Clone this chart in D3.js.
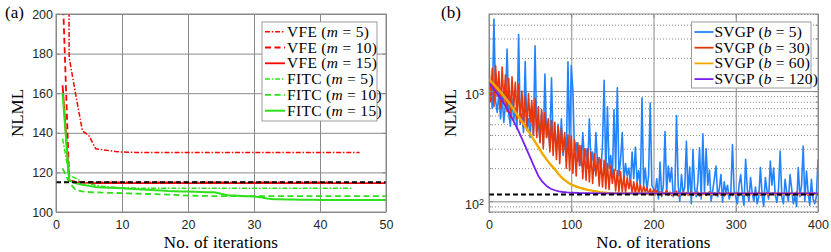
<!DOCTYPE html>
<html>
<head>
<meta charset="utf-8">
<script src="https://cdn.jsdelivr.net/npm/d3@7"></script>
<style>
  body { margin: 0; background: #fff; }
  svg { display: block; }
  .tick text { font-family: "Liberation Sans", Arial, sans-serif; font-size: 12.5px; fill: #262626; }
  .serif { font-family: "Liberation Serif", "Times New Roman", serif; fill: #000; }
</style>
</head>
<body>
<svg id="chart" width="831" height="252"></svg>
<script>
// two panels: (a) NLML vs iterations for VFE / FITC, (b) SVGP with log y

const W = 831, H = 252;
const exactNLML = 115;

// ---- panel (a) data, iteration i -> value at index i-1
const vfe5 = [900, 178, 159, 141, 138.5, 132, 131.5, 131, 130.6, 130.3,
  130.2, 130.1, 130.1, 130, 130, 130, 130, 130, 130, 130,
  130, 130, 130, 130, 130, 130, 130, 130, 130, 130,
  130, 130, 130, 130, 130, 130, 130, 130, 130, 130,
  130, 130, 130, 130, 130, 130];
const vfe10 = [212, 116, 115.3, 115.2, 115.1, 115, 115, 115, 115, 115,
  115, 115, 115, 115, 115, 115, 115, 115, 115, 115,
  115, 115, 115, 115, 115, 115, 115, 115, 115, 115,
  115, 115, 115, 115, 115, 115, 115, 115, 115, 115,
  115, 115];
const vfe15 = [164, 116, 115, 114.8, 114.7, 114.6, 114.6, 114.6, 114.6, 114.6,
  114.6, 114.6, 114.6, 114.6, 114.6, 114.6, 114.6, 114.6, 114.6, 114.6,
  114.6, 114.6, 114.6, 114.6, 114.6, 114.6, 114.6, 114.6, 114.6, 114.6,
  114.6, 114.6, 114.6, 114.6, 114.6, 114.6, 114.6, 114.6, 114.6, 114.6,
  114.6, 114.6, 114.6, 114.6, 114.6, 114.6, 114.6, 114.6, 114.6, 114.6];
const fitc5 = [137, 118.5, 117, 115.3, 114.3, 113.5, 113, 112.7, 112.5, 112.3,
  112.2, 112.1, 112, 112, 112, 112, 112, 112, 112, 112,
  112, 112, 112, 112, 112, 112, 112, 112, 112, 112,
  112, 112, 112, 112, 112, 112, 112, 112, 112, 112,
  112, 112, 112, 112, 112];
const fitc10 = [122, 115, 111, 110.4, 110.1, 109.9, 109.8, 109.7, 109.6, 109.5,
  109.4, 109.3, 109.2, 109.1, 109, 108.9, 108.8, 108.6, 108.4, 108.3,
  108.2, 108.1, 108.1, 108, 108, 108, 108, 108, 108, 108,
  108, 108, 108, 108, 108, 108, 108, 108, 108, 108,
  108, 108, 108, 108, 108, 108, 108, 108, 108, 108];
const fitc15 = [160, 116, 114.5, 113.8, 113.2, 112.6, 112.4, 112.2, 112.1, 112,
  111.8, 111.6, 111.4, 111.2, 111, 110.8, 110.6, 110.5, 110.4, 110.3,
  110.2, 110.1, 110, 110, 109.2, 108.5, 108.3, 108.1, 108, 107.8,
  107.4, 106.8, 106.5, 106.4, 106.3, 106.3, 106.2, 106.2, 106.2, 106.1,
  106.1, 106.1, 106.1, 106, 106, 106, 106, 106, 106, 106];

const xTicksA = [0, 10, 20, 30, 40, 50];
const yTicksA = [100, 120, 140, 160, 180, 200];

// ---- panel (b) data, b=5 and b=30 sampled every 2 iterations (0..400)
const svgp5 = [
  780, 1050, 700, 4500, 820, 640, 980, 560, 900, 520,
  760, 2400, 620, 480, 850, 540, 700, 450, 3250, 500,
  620, 420, 1850, 460, 560, 380, 720, 400, 2580, 430,
  520, 350, 640, 330, 1430, 380, 460, 310, 1320, 340,
  420, 280, 500, 300, 560, 260, 380, 250, 1840, 290,
  1700, 1000, 270, 340, 230, 320, 210, 420, 240, 300,
  200, 560, 220, 280, 190, 420, 210, 250, 180, 330,
  1250, 170, 720, 200, 260, 160, 680, 190, 1070, 170,
  240, 420, 150, 220, 170, 200, 140, 280, 160, 310,
  150, 190, 130, 870, 140, 200, 125, 170, 780, 140,
  130, 120, 160, 105, 227, 110, 140, 430, 120, 209,
  150, 202, 110, 125, 600, 140, 100, 175, 118, 135,
  351, 115, 205, 95, 295, 130, 110, 150, 306, 105,
  409, 120, 300, 140, 192, 100, 125, 160, 209, 110,
  130, 175, 98, 150, 120, 140, 105, 118, 328, 125,
  110, 95, 140, 175, 115, 92, 240, 130, 100, 164,
  120, 100, 135, 95, 110, 202, 115, 90, 164, 125,
  105, 232, 140, 200, 115, 98, 130, 285, 110, 95,
  158, 120, 100, 175, 130, 95, 112, 90, 202, 110,
  140, 317, 100, 188, 120, 92, 158, 105, 95, 110,
  240];
const svgp30 = [
  1750, 800, 1600, 720, 1700, 900, 1500, 700, 1650, 780,
  1400, 650, 1300, 580, 1350, 700, 1200, 560, 1150, 520,
  1000, 480, 900, 440, 950, 520, 820, 400, 860, 380,
  720, 340, 680, 300, 640, 380, 560, 280, 540, 260,
  520, 240, 480, 220, 460, 280, 420, 200, 400, 190,
  390, 180, 360, 170, 340, 210, 320, 160, 300, 155,
  300, 150, 280, 145, 270, 170, 250, 138, 240, 135,
  235, 130, 220, 128, 210, 145, 195, 124, 190, 122,
  185, 122, 170, 120, 165, 130, 155, 118, 150, 117,
  148, 118, 140, 116, 138, 122, 132, 115, 130, 115,
  128, 114, 125, 116, 122, 113, 120, 118, 126, 114,
  121, 113, 119, 117, 124, 112, 118, 115, 122, 113,
  120, 114, 117, 123, 113, 119, 116, 121, 112, 118,
  115, 120, 113, 118, 122, 114, 117, 119, 113, 116,
  120, 114, 118, 112, 121, 115, 117, 119, 113, 118,
  116, 120, 113, 117, 119, 114, 118, 112, 120, 115,
  117, 113, 119, 116, 121, 114, 118, 115, 117, 119,
  113, 118, 116, 120, 114, 117, 119, 113, 118, 115,
  120, 114, 117, 116, 119, 113, 118, 121, 115, 117,
  114, 119, 116, 118, 113, 120, 115, 117, 119, 116,
  118];
const itersB2 = d3.range(0, 401, 2);

// smooth ones, sampled where they bend
const itersB60 = [0, 5, 10, 15, 20, 25, 30, 35, 40, 45, 50, 55, 60, 65, 70, 75, 80, 85, 90, 95,
  100, 105, 110, 115, 120, 125, 130, 135, 140, 145, 150, 160, 200, 250, 300, 350, 400];
const svgp60 = [1280, 1170, 1060, 960, 860, 770, 680, 600, 530, 465, 410, 355, 310, 270, 240, 215, 195, 175, 160, 150,
  142, 137, 133, 130, 127, 125, 123, 121, 120, 119, 118.5, 118, 117.5, 117, 117, 117, 117];
const itersB120 = [0, 5, 10, 15, 20, 25, 30, 35, 40, 45, 50, 55, 60, 65, 70, 75, 80, 85, 90, 95,
  100, 110, 120, 140, 200, 300, 400];
const svgp120 = [1180, 1060, 950, 840, 730, 630, 530, 450, 370, 305, 250, 205, 170, 150, 138, 130, 126, 123, 121.5, 120.5,
  120, 119, 118.5, 118, 118, 118, 118];

const xTicksB = [0, 100, 200, 300, 400];
const yTicksB = [100, 1000];
const yMinorB = [80, 90, 200, 300, 400, 500, 600, 700, 800, 900, 2000, 3000, 4000, 5000];

// ---- look
const red = "#ff0000", green = "#2ee01a";
const dashDot = "5,1.8,1.5,1.8", dashed = "6,3.5";
const gridColor = "#e3e3e3", boxColor = "#8a8a8a";

const panelA = {left: 56, right: 386, top: 14, bottom: 212};
const panelB = {left: 489, right: 818, top: 14, bottom: 212};

const svg = d3.select("#chart");
const defs = svg.append("defs");

const seriesA = [
  {name: "VFE", m: 5, vals: vfe5, color: red, dash: dashDot, width: 1.5},
  {name: "VFE", m: 10, vals: vfe10, color: red, dash: dashed, width: 1.8},
  {name: "VFE", m: 15, vals: vfe15, color: red, dash: null, width: 1.8},
  {name: "FITC", m: 5, vals: fitc5, color: green, dash: dashDot, width: 1.5},
  {name: "FITC", m: 10, vals: fitc10, color: green, dash: dashed, width: 1.8},
  {name: "FITC", m: 15, vals: fitc15, color: green, dash: null, width: 2}
];

const seriesB = [
  {b: 5, xs: itersB2, vals: svgp5, color: "#2283ff", width: 1.6},
  {b: 30, xs: itersB2, vals: svgp30, color: "#e8360c", width: 1.6},
  {b: 60, xs: itersB60, vals: svgp60, color: "#eeaa00", width: 2.4},
  {b: 120, xs: itersB120, vals: svgp120, color: "#7a1ff0", width: 1.8}
];

const drawFrame = (g, p, xScale, yScale, xTicks, yTicks, yMinor) => {
  const w = p.right - p.left, h = p.bottom - p.top;

  // grid
  g.append("g").attr("transform", `translate(0,${p.bottom})`)
    .call(d3.axisBottom(xScale).tickValues(xTicks).tickSize(-h).tickFormat(""))
    .call(s => s.select(".domain").remove())
    .selectAll("line").attr("stroke", gridColor);
  if (yMinor) {
    g.append("g").attr("transform", `translate(${p.left},0)`)
      .call(d3.axisLeft(yScale).tickValues(yMinor).tickSize(-w).tickFormat(""))
      .call(s => s.select(".domain").remove())
      .selectAll("line").attr("stroke", "#dedede").attr("stroke-dasharray", "1,2");
  }
  g.append("g").attr("transform", `translate(${p.left},0)`)
    .call(d3.axisLeft(yScale).tickValues(yTicks).tickSize(-w).tickFormat(""))
    .call(s => s.select(".domain").remove())
    .selectAll("line").attr("stroke", gridColor);
};

const drawAxes = (g, p, xScale, yScale, xTicks, yTicks, yMinor) => {
  const xAx = g.append("g").attr("class", "x axis").attr("transform", `translate(0,${p.bottom})`)
    .call(d3.axisBottom(xScale).tickValues(xTicks).tickSize(-4).tickPadding(8));
  g.append("g").attr("transform", `translate(0,${p.top})`)
    .call(d3.axisTop(xScale).tickValues(xTicks).tickSize(-4).tickFormat(""));
  const yAx = g.append("g").attr("class", "y axis").attr("transform", `translate(${p.left},0)`)
    .call(d3.axisLeft(yScale).tickValues(yTicks).tickSize(-4).tickPadding(3));
  g.append("g").attr("transform", `translate(${p.right},0)`)
    .call(d3.axisRight(yScale).tickValues(yTicks).tickSize(-4).tickFormat(""));
  if (yMinor) {
    g.append("g").attr("transform", `translate(${p.left},0)`)
      .call(d3.axisLeft(yScale).tickValues(yMinor).tickSize(-2.5).tickFormat(""));
    g.append("g").attr("transform", `translate(${p.right},0)`)
      .call(d3.axisRight(yScale).tickValues(yMinor).tickSize(-2.5).tickFormat(""));
  }
  g.selectAll(".domain").remove();
  g.selectAll(".tick line").attr("stroke", boxColor);

  g.append("rect")
    .attr("x", p.left).attr("y", p.top)
    .attr("width", p.right - p.left).attr("height", p.bottom - p.top)
    .attr("fill", "none").attr("stroke", boxColor).attr("stroke-width", 1);
  return {xAx, yAx};
};

const addClip = (id, p) => {
  defs.append("clipPath").attr("id", id).append("rect")
    .attr("x", p.left).attr("y", p.top)
    .attr("width", p.right - p.left).attr("height", p.bottom - p.top);
};

const legendText = (sel, name, sym, val) => {
  sel.append("tspan").text(`${name} (`);
  sel.append("tspan").attr("font-style", "italic").text(sym);
  sel.append("tspan").text(` = ${val})`);
};

// ================= PANEL (a)
const xA = d3.scaleLinear().domain([0, 50]).range([panelA.left, panelA.right]);
const yA = d3.scaleLinear().domain([100, 200]).range([panelA.bottom, panelA.top]);
const gA = svg.append("g");
addClip("clipA", panelA);
drawFrame(gA, panelA, xA, yA, xTicksA, yTicksA, null);

const lineA = d3.line().x((d, i) => xA(i + 1)).y(d => yA(d));
const plotA = gA.append("g").attr("clip-path", "url(#clipA)");
seriesA.forEach(s => {
  plotA.append("path")
    .attr("d", lineA(s.vals))
    .attr("fill", "none")
    .attr("stroke", s.color)
    .attr("stroke-width", s.width)
    .attr("stroke-dasharray", s.dash)
    .attr("stroke-linejoin", "round");
});
plotA.append("line")
  .attr("x1", xA(0)).attr("x2", xA(50))
  .attr("y1", yA(exactNLML)).attr("y2", yA(exactNLML))
  .attr("stroke", "#000").attr("stroke-width", 2).attr("stroke-dasharray", "5,3");

drawAxes(gA, panelA, xA, yA, xTicksA, yTicksA, null);

// legend (a)
const legA = gA.append("g").attr("transform", "translate(262,22)");
legA.append("rect").attr("width", 115).attr("height", 99)
  .attr("fill", "#fff").attr("stroke", "#9a9a9a").attr("stroke-width", 1);
seriesA.forEach((s, i) => {
  const cy = 9.7 + i * 15.8;
  legA.append("line").attr("x1", 3).attr("x2", 23).attr("y1", cy).attr("y2", cy)
    .attr("stroke", s.color).attr("stroke-width", s.width).attr("stroke-dasharray", s.dash);
  const t = legA.append("text").attr("class", "serif").attr("x", 25).attr("y", cy + 5)
    .attr("font-size", 15.5).attr("letter-spacing", 0.3);
  legendText(t, s.name, "m", s.m);
});

gA.append("text").attr("class", "serif").attr("x", 5).attr("y", 18)
  .attr("font-size", 17).text("(a)");
gA.append("text").attr("class", "serif")
  .attr("transform", `translate(23,${(panelA.top + panelA.bottom) / 2}) rotate(-90)`)
  .attr("text-anchor", "middle").attr("font-size", 17).text("NLML");
gA.append("text").attr("class", "serif")
  .attr("x", (panelA.left + panelA.right) / 2).attr("y", 248)
  .attr("text-anchor", "middle").attr("font-size", 17).attr("letter-spacing", 0.2)
  .text("No. of iterations");

// ================= PANEL (b)
const xB = d3.scaleLinear().domain([0, 400]).range([panelB.left, panelB.right]);
const yB = d3.scaleLog().domain([80, 5000]).range([panelB.bottom, panelB.top]);
const gB = svg.append("g");
addClip("clipB", panelB);
drawFrame(gB, panelB, xB, yB, xTicksB, yTicksB, yMinorB);

const plotB = gB.append("g").attr("clip-path", "url(#clipB)");
seriesB.forEach(s => {
  const line = d3.line().x((d, i) => xB(s.xs[i])).y(d => yB(d));
  plotB.append("path")
    .attr("d", line(s.vals))
    .attr("fill", "none")
    .attr("stroke", s.color)
    .attr("stroke-width", s.width)
    .attr("stroke-linejoin", "round");
});
plotB.append("line")
  .attr("x1", xB(0)).attr("x2", xB(400))
  .attr("y1", yB(exactNLML)).attr("y2", yB(exactNLML))
  .attr("stroke", "#000").attr("stroke-width", 2).attr("stroke-dasharray", "5,3");

const axB = drawAxes(gB, panelB, xB, yB, xTicksB, yTicksB, yMinorB);
// 10^k labels
axB.yAx.selectAll(".tick text").each(function (d) {
  const t = d3.select(this).text(null).attr("dy", "0.6em").attr("x", -5);
  t.append("tspan").text("10");
  t.append("tspan").attr("dy", "-0.5em").attr("font-size", "9px").text(Math.round(Math.log10(d)));
});

// legend (b)
const legB = gB.append("g").attr("transform", "translate(691.5,22)");
legB.append("rect").attr("width", 119.5).attr("height", 66)
  .attr("fill", "#fff").attr("stroke", "#9a9a9a").attr("stroke-width", 1);
seriesB.forEach((s, i) => {
  const cy = 10 + i * 15.7;
  legB.append("line").attr("x1", 3).attr("x2", 22).attr("y1", cy).attr("y2", cy)
    .attr("stroke", s.color).attr("stroke-width", 1.8);
  const t = legB.append("text").attr("class", "serif").attr("x", 23).attr("y", cy + 5)
    .attr("font-size", 15.5).attr("letter-spacing", 0.2);
  legendText(t, "SVGP", "b", s.b);
});

gB.append("text").attr("class", "serif").attr("x", 441).attr("y", 18)
  .attr("font-size", 17).text("(b)");
gB.append("text").attr("class", "serif")
  .attr("transform", `translate(456,${(panelB.top + panelB.bottom) / 2}) rotate(-90)`)
  .attr("text-anchor", "middle").attr("font-size", 17).text("NLML");
gB.append("text").attr("class", "serif")
  .attr("x", (panelB.left + panelB.right) / 2).attr("y", 248)
  .attr("text-anchor", "middle").attr("font-size", 17).attr("letter-spacing", 0.2)
  .text("No. of iterations");
</script>
</body>
</html>
